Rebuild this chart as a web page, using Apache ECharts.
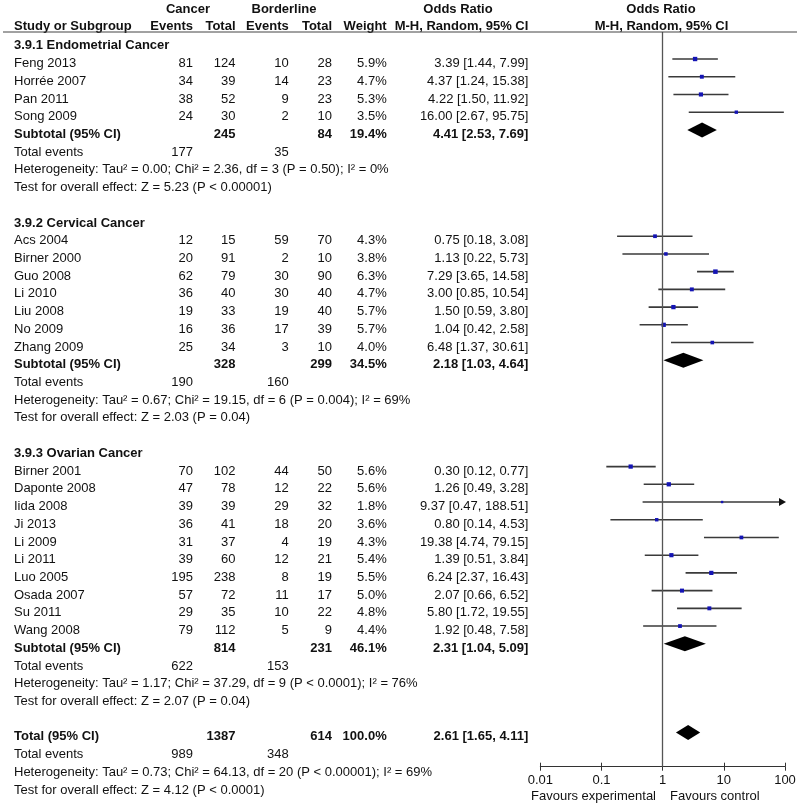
<!DOCTYPE html>
<html><head><meta charset="utf-8">
<script src="https://cdn.jsdelivr.net/npm/echarts@6/dist/echarts.min.js"></script>
<style>html,body{margin:0;padding:0;background:#fff}#chart{width:800px;height:807px}</style>
</head><body><div id="chart"></div>
<script>
// ---------------- DATA ----------------
const groupTitles = ['3.9.1 Endometrial Cancer', '3.9.2 Cervical Cancer', '3.9.3 Ovarian Cancer'];
const studyNames = ['Feng 2013', 'Horrée 2007', 'Pan 2011', 'Song 2009',
  'Acs 2004', 'Birner 2000', 'Guo 2008', 'Li 2010', 'Liu 2008', 'No 2009', 'Zhang 2009',
  'Birner 2001', 'Daponte 2008', 'Iida 2008', 'Ji 2013', 'Li 2009', 'Li 2011', 'Luo 2005', 'Osada 2007', 'Su 2011', 'Wang 2008'];
const studyGroup   = [0,0,0,0, 1,1,1,1,1,1,1, 2,2,2,2,2,2,2,2,2,2];
const cancerEvents = [81,34,38,24, 12,20,62,36,19,16,25, 70,47,39,36,31,39,195,57,29,79];
const cancerTotal  = [124,39,52,30, 15,91,79,40,33,36,34, 102,78,39,41,37,60,238,72,35,112];
const borderEvents = [10,14,9,2, 59,2,30,30,19,17,3, 44,12,29,18,4,12,8,11,10,5];
const borderTotal  = [28,23,23,10, 70,10,90,40,40,39,10, 50,22,32,20,19,21,19,17,22,9];
const studyWeight  = [5.9,4.7,5.3,3.5, 4.3,3.8,6.3,4.7,5.7,5.7,4.0, 5.6,5.6,1.8,3.6,4.3,5.4,5.5,5.0,4.8,4.4];
const studyOR      = [3.39,4.37,4.22,16.00, 0.75,1.13,7.29,3.00,1.50,1.04,6.48, 0.30,1.26,9.37,0.80,19.38,1.39,6.24,2.07,5.80,1.92];
const studyLow     = [1.44,1.24,1.50,2.67, 0.18,0.22,3.65,0.85,0.59,0.42,1.37, 0.12,0.49,0.47,0.14,4.74,0.51,2.37,0.66,1.72,0.48];
const studyHigh    = [7.99,15.38,11.92,95.75, 3.08,5.73,14.58,10.54,3.80,2.58,30.61, 0.77,3.28,188.51,4.53,79.15,3.84,16.43,6.52,19.55,7.58];

const subCancerTotal  = [245, 328, 814];
const subBorderTotal  = [84, 299, 231];
const subWeight       = [19.4, 34.5, 46.1];
const subOR           = [4.41, 2.18, 2.31];
const subLow          = [2.53, 1.03, 1.04];
const subHigh         = [7.69, 4.64, 5.09];
const subCancerEvents = [177, 190, 622];
const subBorderEvents = [35, 160, 153];
const subHeterogeneity = [
  'Heterogeneity: Tau² = 0.00; Chi² = 2.36, df = 3 (P = 0.50); I² = 0%',
  'Heterogeneity: Tau² = 0.67; Chi² = 19.15, df = 6 (P = 0.004); I² = 69%',
  'Heterogeneity: Tau² = 1.17; Chi² = 37.29, df = 9 (P < 0.0001); I² = 76%'];
const subEffectTest = [
  'Test for overall effect: Z = 5.23 (P < 0.00001)',
  'Test for overall effect: Z = 2.03 (P = 0.04)',
  'Test for overall effect: Z = 2.07 (P = 0.04)'];

const totalCancerTotal = 1387, totalBorderTotal = 614, totalWeight = 100.0;
const totalOR = 2.61, totalLow = 1.65, totalHigh = 4.11;
const totalCancerEvents = 989, totalBorderEvents = 348;
const totalHeterogeneity = 'Heterogeneity: Tau² = 0.73; Chi² = 64.13, df = 20 (P < 0.00001); I² = 69%';
const totalEffectTest = 'Test for overall effect: Z = 4.12 (P < 0.0001)';

const axisTickValues = [0.01, 0.1, 1, 10, 100];
const axisTickLabels = ['0.01', '0.1', '1', '10', '100'];

// ---------------- LAYOUT ----------------
const FONT_FAMILY = 'Arial, "Liberation Sans", sans-serif';
const FS = 13;
const ROW_H = 17.72;
const TEXT_ROW0 = 45.8;    // pixel y of text row 0
const MARK_ROW0 = 41.3;    // pixel y of plot row 0
const H = 807, W = 800;
const PLOT_TOP = 32, PLOT_AXIS_Y = 766.7;
const PLOT_LEFT = 540.3, PLOT_RIGHT = 785;
const AX_MIN = 0.01, AX_MAX = 100;
const COL = {name: 14, cEv: 193, cTot: 235.5, bEv: 288.7, bTot: 332, weight: 386.7, orText: 528.3};

function f2(v) { return v.toFixed(2); }
function orStr(o, l, h) { return f2(o) + ' [' + f2(l) + ', ' + f2(h) + ']'; }

const texts = [];
function addText(x, row, text, align, bold) { texts.push({x, row, text: String(text), align: align || 'right', bold: !!bold}); }
const studyMarks = [];
const diamondMarks = [];

// headers
const hRow1 = (9.5 - TEXT_ROW0) / ROW_H, hRow2 = (26.5 - TEXT_ROW0) / ROW_H;
addText(188, hRow1, 'Cancer', 'center', true);
addText(284, hRow1, 'Borderline', 'center', true);
addText(458, hRow1, 'Odds Ratio', 'center', true);
addText(661, hRow1, 'Odds Ratio', 'center', true);
addText(COL.name, hRow2, 'Study or Subgroup', 'left', true);
addText(COL.cEv, hRow2, 'Events', 'right', true);
addText(COL.cTot, hRow2, 'Total', 'right', true);
addText(COL.bEv, hRow2, 'Events', 'right', true);
addText(COL.bTot, hRow2, 'Total', 'right', true);
addText(COL.weight, hRow2, 'Weight', 'right', true);
addText(COL.orText, hRow2, 'M-H, Random, 95% CI', 'right', true);
addText(661.5, hRow2, 'M-H, Random, 95% CI', 'center', true);

let r = 0;
for (let g = 0; g < groupTitles.length; g++) {
  addText(COL.name, r, groupTitles[g], 'left', true); r++;
  for (let i = 0; i < studyNames.length; i++) {
    if (studyGroup[i] !== g) continue;
    addText(COL.name, r, studyNames[i], 'left');
    addText(COL.cEv, r, cancerEvents[i]);
    addText(COL.cTot, r, cancerTotal[i]);
    addText(COL.bEv, r, borderEvents[i]);
    addText(COL.bTot, r, borderTotal[i]);
    addText(COL.weight, r, studyWeight[i].toFixed(1) + '%');
    addText(COL.orText, r, orStr(studyOR[i], studyLow[i], studyHigh[i]));
    studyMarks.push([studyOR[i], studyLow[i], studyHigh[i], r, studyWeight[i]]);
    r++;
  }
  addText(COL.name, r, 'Subtotal (95% CI)', 'left', true);
  addText(COL.cTot, r, subCancerTotal[g], 'right', true);
  addText(COL.bTot, r, subBorderTotal[g], 'right', true);
  addText(COL.weight, r, subWeight[g].toFixed(1) + '%', 'right', true);
  addText(COL.orText, r, orStr(subOR[g], subLow[g], subHigh[g]), 'right', true);
  diamondMarks.push([subOR[g], subLow[g], subHigh[g], r]);
  r++;
  addText(COL.name, r, 'Total events', 'left');
  addText(COL.cEv, r, subCancerEvents[g]);
  addText(COL.bEv, r, subBorderEvents[g]);
  r++;
  addText(COL.name, r, subHeterogeneity[g], 'left'); r++;
  addText(COL.name, r, subEffectTest[g], 'left'); r++;
  r++; // blank
}
addText(COL.name, r, 'Total (95% CI)', 'left', true);
addText(COL.cTot, r, totalCancerTotal, 'right', true);
addText(COL.bTot, r, totalBorderTotal, 'right', true);
addText(COL.weight, r, totalWeight.toFixed(1) + '%', 'right', true);
addText(COL.orText, r, orStr(totalOR, totalLow, totalHigh), 'right', true);
diamondMarks.push([totalOR, totalLow, totalHigh, r]);
r++;
addText(COL.name, r, 'Total events', 'left');
addText(COL.cEv, r, totalCancerEvents);
addText(COL.bEv, r, totalBorderEvents);
r++;
addText(COL.name, r, totalHeterogeneity, 'left'); r++;
addText(COL.name, r, totalEffectTest, 'left'); r++;
const favRow = (796 - TEXT_ROW0) / ROW_H;
addText(656, favRow, 'Favours experimental', 'right');
addText(670, favRow, 'Favours control', 'left');

const textData = texts.map((t, i) => [t.x, t.row, i]);

const chart = echarts.init(document.getElementById('chart'), null, {renderer: 'canvas'});
const plotYMin = (PLOT_TOP - MARK_ROW0) / ROW_H;
const plotYMax = (PLOT_AXIS_Y - MARK_ROW0) / ROW_H;
const textYMin = (0 - TEXT_ROW0) / ROW_H;
const textYMax = (H - TEXT_ROW0) / ROW_H;

const logAxisBase = {
  type: 'log', logBase: 10, min: AX_MIN, max: AX_MAX, gridIndex: 0,
  position: 'bottom',
  splitLine: {show: false}
};

chart.setOption({
  animation: false,
  backgroundColor: '#ffffff',
  textStyle: {fontFamily: FONT_FAMILY},
  grid: [
    {left: PLOT_LEFT, right: W - PLOT_RIGHT, top: PLOT_TOP, bottom: H - PLOT_AXIS_Y},
    {left: 0, right: 0, top: 0, bottom: 0}
  ],
  xAxis: [
    Object.assign({}, logAxisBase, {
      axisLine: {show: true, onZero: false, lineStyle: {color: '#333', width: 1}},
      axisTick: {show: true, length: 4, lineStyle: {color: '#333', width: 1}},
      axisLabel: {show: true, margin: 7, fontSize: FS, color: '#111', fontFamily: FONT_FAMILY,
        formatter: v => { const k = axisTickValues.findIndex(t => Math.abs(Math.log10(t) - Math.log10(v)) < 1e-6); return k >= 0 ? axisTickLabels[k] : ''; }}
    }),
    Object.assign({}, logAxisBase, {
      axisLine: {show: false, onZero: false},
      axisTick: {show: true, inside: true, length: 4, lineStyle: {color: '#333', width: 1}},
      axisLabel: {show: false}
    }),
    {type: 'value', gridIndex: 1, min: 0, max: W, show: false}
  ],
  yAxis: [
    {type: 'value', gridIndex: 0, inverse: true, min: plotYMin, max: plotYMax, show: false},
    {type: 'value', gridIndex: 1, inverse: true, min: textYMin, max: textYMax, show: false}
  ],
  graphic: [{
    type: 'line', silent: true, z: 10,
    shape: {x1: 3, y1: 32, x2: 797, y2: 32},
    style: {stroke: '#444', lineWidth: 1}
  }],
  series: [
    {
      type: 'custom', name: 'studies', xAxisIndex: 0, yAxisIndex: 0, clip: false,
      data: studyMarks,
      renderItem: function (params, api) {
        const row = api.value(3);
        const o = api.coord([api.value(0), row]);
        const lo = api.coord([api.value(1), row]);
        const hiV = api.value(2);
        const hi = api.coord([Math.min(hiV, AX_MAX), row]);
        const s = Math.sqrt(api.value(4)) * 1.8;
        const ch = [
          {type: 'line', shape: {x1: lo[0], y1: lo[1], x2: hi[0] - (hiV > AX_MAX ? 4 : 0), y2: hi[1]}, style: {stroke: '#3a3a3a', lineWidth: 1.6}},
          {type: 'rect', shape: {x: o[0] - s / 2, y: o[1] - s / 2, width: s, height: s}, style: {fill: '#1414b4'}}
        ];
        if (hiV > AX_MAX) {
          ch.push({type: 'polygon', shape: {points: [[hi[0] + 1, hi[1]], [hi[0] - 6, hi[1] - 4], [hi[0] - 6, hi[1] + 4]]}, style: {fill: '#111'}});
        }
        return {type: 'group', children: ch};
      },
      markLine: {
        silent: true, symbol: 'none', animation: false,
        label: {show: false},
        lineStyle: {color: '#555', width: 1.3, type: 'solid'},
        data: [{xAxis: 1}]
      }
    },
    {
      type: 'custom', name: 'diamonds', xAxisIndex: 0, yAxisIndex: 0, clip: false,
      data: diamondMarks,
      renderItem: function (params, api) {
        const row = api.value(3);
        const o = api.coord([api.value(0), row]);
        const lo = api.coord([api.value(1), row]);
        const hi = api.coord([api.value(2), row]);
        const h = 7.5;
        return {type: 'polygon', shape: {points: [[lo[0], lo[1]], [o[0], o[1] - h], [hi[0], hi[1]], [o[0], o[1] + h]]}, style: {fill: '#000'}};
      }
    },
    {
      type: 'custom', name: 'table', xAxisIndex: 2, yAxisIndex: 1, clip: false,
      data: textData,
      renderItem: function (params, api) {
        const t = texts[api.value(2)];
        const p = api.coord([api.value(0), api.value(1)]);
        return {
          type: 'text', x: p[0], y: p[1],
          style: {
            text: t.text, fill: '#111',
            font: (t.bold ? 'bold ' : '') + FS + 'px ' + FONT_FAMILY,
            align: t.align, verticalAlign: 'middle',
            textAlign: t.align, textVerticalAlign: 'middle'
          }
        };
      }
    }
  ]
});
</script>
</body></html>
